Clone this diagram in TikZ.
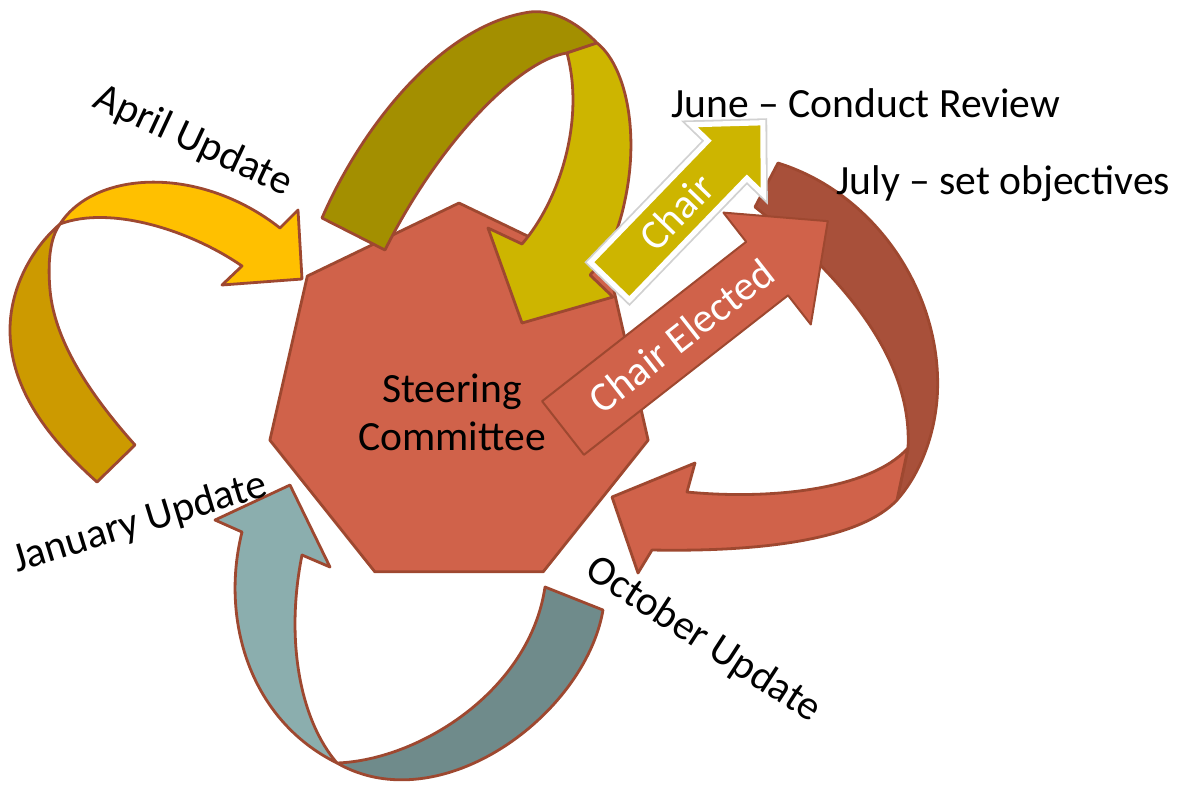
\documentclass[tikz,border=0pt]{standalone}
\usepackage{fontspec}
\setmainfont{Carlito}
\usetikzlibrary{calc}
\definecolor{rimred}{RGB}{158,72,48}
\definecolor{redfront}{RGB}{208,98,74}
\definecolor{redback}{RGB}{168,80,58}
\definecolor{yelfront}{RGB}{255,192,0}
\definecolor{yelback}{RGB}{204,154,0}
\definecolor{olvfront}{RGB}{205,181,0}
\definecolor{olvback}{RGB}{163,143,0}
\definecolor{bluefront}{RGB}{139,174,174}
\definecolor{blueback}{RGB}{111,139,139}
\begin{document}
\begin{tikzpicture}[
    x=0.5pt, y=-0.5pt,
    every node/.style={font=\fontsize{20.8}{24}\selectfont, inner sep=0pt},
    band/.style={draw=rimred, line width=1.4pt, line join=round},
    chairbox/.style={fill=olvfront, draw=white, line width=2.6pt, line join=miter,
                     preaction={draw=black!18, line width=4.4pt}},
    inarrow/.style={text=white, transform shape}
]
  \useasboundingbox (0,0) rectangle (1178,784);

  % Committee heptagon
  \coordinate (hc) at (459,397);
  \draw[band, fill=redfront] ($(hc)+(270:194)$)
    \foreach \k in {1,...,6}{ -- ($(hc)+(270+\k*360/7:194)$) } -- cycle;
  \node[align=center] (committee) at (452,412) {Steering\\Committee};

  % January -> April (yellow)
  \draw[band, fill=yelback] (60,224) .. controls (30,250) and (10,290) .. (10,330)
    .. controls (10,390) and (50,440) .. (97,482) -- (135,445)
    .. controls (95,400) and (55,345) .. (50,290) .. controls (47,255) and (52,235) .. (60,224) -- cycle;
  \draw[band, fill=yelfront] (60,224) .. controls (95,170) and (200,165) .. (280,228)
    -- (298,210) -- (302,279) -- (222,285) -- (242,266)
    .. controls (190,230) and (110,205) .. (60,224) -- cycle;

  % April -> June (olive)
  \draw[band, fill=olvback] (322,218) .. controls (360,130) and (440,25) .. (530,12)
    .. controls (555,9) and (580,25) .. (597,43) -- (567,53)
    .. controls (520,60) and (440,140) .. (385,250) -- cycle;
  \draw[band, fill=olvfront] (597,43) .. controls (625,65) and (640,130) .. (625,200)
    .. controls (618,235) and (605,260) .. (590,275)
    -- (613,297) -- (522,323) -- (488,228) -- (522,244)
    .. controls (560,200) and (585,120) .. (567,53) -- cycle;

  % October -> January (blue)
  \draw[band, fill=blueback] (603,610) .. controls (585,715) and (440,822) .. (337,763)
    .. controls (420,760) and (530,690) .. (545,587) -- cycle;
  \draw[band, fill=bluefront] (337,763) .. controls (250,720) and (220,620) .. (242,532)
    -- (215,520) -- (290,485) -- (330,567) -- (302,555)
    .. controls (285,640) and (300,720) .. (337,763) -- cycle;

  % July -> October (red)
  \draw[band, fill=redback] (778,163) .. controls (880,195) and (945,300) .. (937,400)
    .. controls (933,445) and (915,480) .. (897,500) -- (908,448)
    .. controls (912,370) and (860,290) .. (755,207) -- cycle;
  \draw[band, fill=redfront] (908,448) .. controls (870,490) and (770,500) .. (687,492)
    -- (695,463) -- (612,497) -- (638,573) -- (652,550)
    .. controls (760,552) and (860,540) .. (897,500) -- cycle;

  % Straight arrows
  \begin{scope}[shift={(563,428)}, rotate=38]
    \draw[band, line width=1pt, fill=redfront] (0,-34) -- (259,-34) -- (259,-71) -- (336,0)
      -- (259,71) -- (259,34) -- (0,34) -- cycle;
    \node[inarrow] (elected) at (150,0) {Chair Elected};
  \end{scope}
  \begin{scope}[shift={(610,281)}, rotate=46]
    \draw[chairbox] (0,-27) -- (169,-27) -- (169,-50) -- (220,0)
      -- (169,50) -- (169,27) -- (0,27) -- cycle;
    \node[inarrow] (chair) at (96,0) {Chair};
  \end{scope}

  % Month labels
  \node[rotate=-25] (april) at (193,141) {April Update};
  \node[rotate=17] (january) at (140,523) {January Update};
  \node[rotate=-33] (october) at (703,640) {October Update};
  \node[anchor=base west] (june) at (671,117) {June -- Conduct Review};
  \node[anchor=base west] (july) at (836,194) {July -- set objectives};
\end{tikzpicture}
\end{document}
